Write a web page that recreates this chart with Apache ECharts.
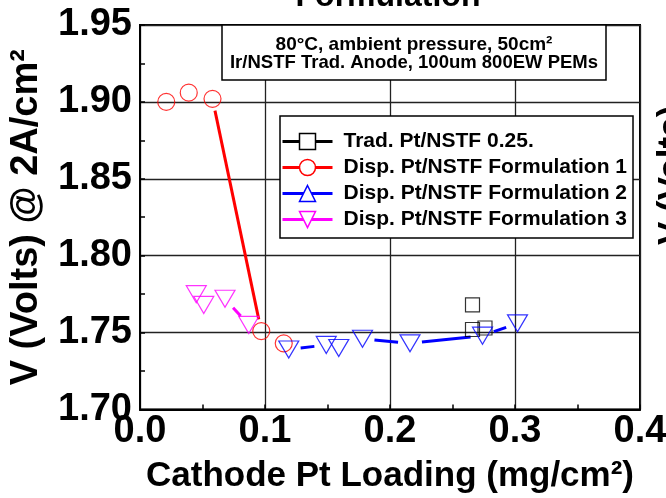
<!DOCTYPE html>
<html><head><meta charset="utf-8">
<script src="https://cdn.jsdelivr.net/npm/echarts@6/dist/echarts.min.js"></script>
<style>html,body{margin:0;padding:0;background:#fff}#c{width:666px;height:498px}</style>
</head><body><div id="c"></div>
<script>
// ---- data ----
const seriesNames = ['Trad. Pt/NSTF 0.25.', 'Disp. Pt/NSTF Formulation 1', 'Disp. Pt/NSTF Formulation 2', 'Disp. Pt/NSTF Formulation 3'];
const tradX = [0.266, 0.266, 0.276];
const tradY = [1.768, 1.752, 1.753];
const f1X = [0.021, 0.039, 0.058, 0.097, 0.115];
const f1Y = [1.900, 1.906, 1.902, 1.751, 1.743];
const f2X = [0.119, 0.149, 0.159, 0.178, 0.216, 0.274, 0.302];
const f2Y = [1.739, 1.742, 1.740, 1.746, 1.743, 1.748, 1.756];
const f3X = [0.045, 0.051, 0.068, 0.087];
const f3Y = [1.775, 1.768, 1.772, 1.755];
const xTickLabels = ['0.0', '0.1', '0.2', '0.3', '0.4'];
const yTickLabels = ['1.70', '1.75', '1.80', '1.85', '1.90', '1.95'];
const xTitle = 'Cathode Pt Loading (mg/cm²)';
const yTitle = 'V (Volts) @ 2A/cm²';
const boxLine1 = '80°C, ambient pressure, 50cm²';
const boxLine2 = 'Ir/NSTF Trad. Anode, 100um 800EW PEMs';
const topTitle = 'Formulation';
const rightCutTitle = 'V (Volts)';

// ---- styling ----
const FONT = '"Liberation Sans", Arial, Helvetica, sans-serif';
const colors = ['#000000', '#ff0000', '#0000ff', '#ff00ff'];
const DOWN = 'path://M0,0L20,0L10,17Z';
const plotSymbols = ['rect', 'circle', DOWN, DOWN];
const plotSizes = [14, 17, [20, 17], [20, 17]];
const legendSymbols = ['rect', 'circle', 'triangle', DOWN];
const GAP = 12;

const xs = [tradX, f1X, f2X, f3X];
const ys = [tradY, f1Y, f2Y, f3Y];

function pts(x, y) { return x.map((v, i) => [v, y[i]]); }

function gapLine(x, y, color, name) {
  const segs = [];
  for (let i = 0; i < x.length - 1; i++) segs.push([x[i], y[i], x[i + 1], y[i + 1]]);
  return {
    type: 'custom', name: name, coordinateSystem: 'cartesian2d', silent: true, z: 3,
    encode: { x: [0, 2], y: [1, 3] }, data: segs,
    renderItem: function (params, api) {
      const a = api.coord([api.value(0), api.value(1)]);
      const b = api.coord([api.value(2), api.value(3)]);
      const dx = b[0] - a[0], dy = b[1] - a[1];
      const d = Math.hypot(dx, dy);
      if (d - 2 * GAP < 2) return null;
      const ux = dx / d, uy = dy / d;
      return { type: 'line', shape: { x1: a[0] + ux * GAP, y1: a[1] + uy * GAP, x2: b[0] - ux * GAP, y2: b[1] - uy * GAP },
        style: { stroke: color, lineWidth: 3 } };
    }
  };
}

const series = [];
// legend proxies (line + symbol look)
seriesNames.forEach((n, k) => {
  series.push({ type: 'line', name: n, data: [], symbol: legendSymbols[k], symbolSize: 16,
    lineStyle: { color: colors[k], width: 3 }, itemStyle: { color: colors[k] } });
});
seriesNames.forEach((n, k) => {
  series.push(gapLine(xs[k], ys[k], colors[k], n));
});
seriesNames.forEach((n, k) => {
  series.push({ type: 'scatter', name: n, data: pts(xs[k], ys[k]), symbol: plotSymbols[k], symbolSize: plotSizes[k], z: 4,
    itemStyle: { color: 'rgba(0,0,0,0)', borderColor: colors[k], borderWidth: 1.2 }, silent: true });
});

const axisCommon = {
  axisLine: { show: true, lineStyle: { color: '#000', width: 2 } },
  axisTick: { show: true, inside: true, length: 5, lineStyle: { color: '#000', width: 1.5 } },
  minorTick: { show: true, splitNumber: 2, length: 5, lineStyle: { color: '#000', width: 1.5 } },
  splitLine: { show: true, lineStyle: { color: '#222', width: 1.3 } }
};

const option = {
  animation: false,
  backgroundColor: '#fff',
  grid: { left: 140, top: 25, right: 26, bottom: 88.5, show: true, borderColor: '#000', borderWidth: 2, outerBoundsMode: 'none' },
  xAxis: Object.assign({}, axisCommon, {
    type: 'value', min: 0, max: 0.4, interval: 0.1,
    name: xTitle, nameLocation: 'middle', nameGap: 49,
    nameTextStyle: { fontSize: 35, fontWeight: 'bold', color: '#000', fontFamily: FONT },
    axisLabel: { fontSize: 38, fontWeight: 'bold', color: '#000', fontFamily: FONT, margin: 3,
      formatter: (v, i) => xTickLabels[i] }
  }),
  yAxis: Object.assign({}, axisCommon, {
    type: 'value', min: 1.70, max: 1.95, interval: 0.05,
    name: yTitle, nameLocation: 'middle', nameGap: 94, nameRotate: 90,
    nameTextStyle: { fontSize: 38, fontWeight: 'bold', color: '#000', fontFamily: FONT },
    axisLabel: { fontSize: 38, fontWeight: 'bold', color: '#000', fontFamily: FONT, margin: 8,
      formatter: (v, i) => yTickLabels[i] }
  }),
  legend: {
    left: 280, top: 116, orient: 'vertical', selectedMode: false,
    itemWidth: 50, itemHeight: 20, itemGap: 5, padding: [15, 6, 8, 1],
    backgroundColor: '#fff', borderColor: '#000', borderWidth: 1.5,
    textStyle: { fontSize: 21, fontWeight: 'bold', color: '#000', fontFamily: FONT, padding: [0, 0, 0, 6] },
    data: seriesNames.map((n, k) => ({ name: n,
      lineStyle: { color: colors[k], width: 3, opacity: 1 },
      itemStyle: { color: '#fff', borderColor: colors[k], borderWidth: 1.5 } }))
  },
  graphic: [
    { type: 'rect', z: 100, shape: { x: 222, y: 25, width: 384, height: 55 },
      style: { fill: '#fff', stroke: '#000', lineWidth: 1.5 } },
    { type: 'text', z: 101, x: 414, y: 45, style: { text: boxLine1, font: 'bold 19px ' + FONT, fill: '#000', textAlign: 'center', textVerticalAlign: 'middle' } },
    { type: 'text', z: 101, x: 414, y: 63, style: { text: boxLine2, font: 'bold 18.5px ' + FONT, fill: '#000', textAlign: 'center', textVerticalAlign: 'middle' } },
    { type: 'text', z: 101, x: 388, y: 13, style: { text: topTitle, font: 'bold 32px ' + FONT, fill: '#000', textAlign: 'center', textVerticalAlign: 'bottom' } },
    { type: 'text', z: 101, x: 655, y: 245, rotation: Math.PI / 2, style: { text: rightCutTitle, font: 'bold 35px ' + FONT, fill: '#000', textAlign: 'left', textVerticalAlign: 'top' } }
  ],
  series: series
};

const chart = echarts.init(document.getElementById('c'), null, { renderer: 'canvas' });
chart.setOption(option);
</script>
</body></html>
